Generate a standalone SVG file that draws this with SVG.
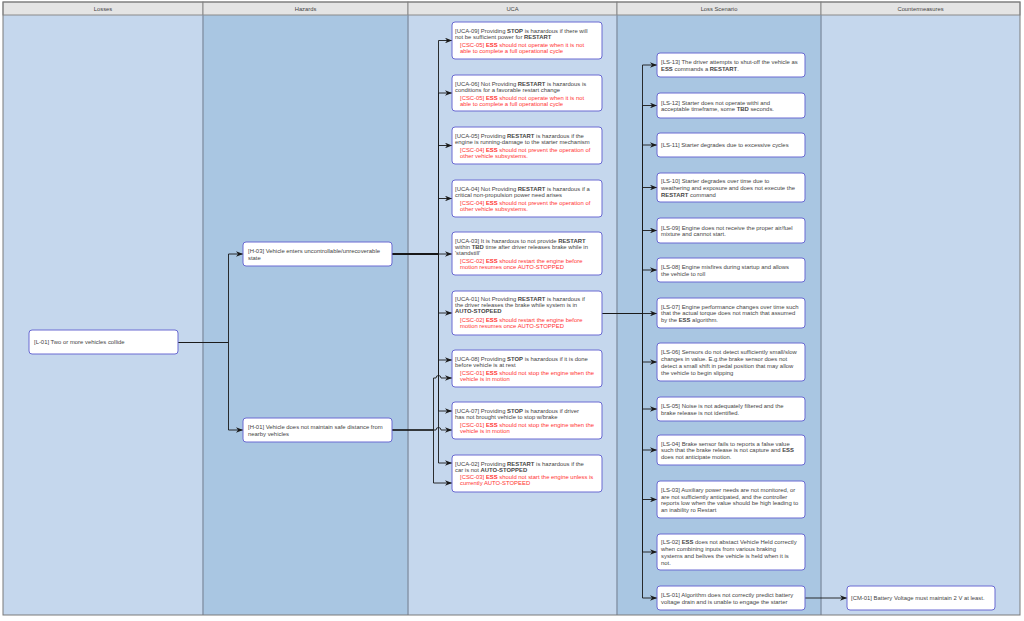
<svg xmlns="http://www.w3.org/2000/svg" width="1024" height="621" viewBox="0 0 1024 621">
<style>
.cl{fill:#c5d7ed}
.cd{fill:#a9c6e2}
.hdr{fill:#e4e4e4;stroke:#8a8a8a;stroke-width:1}
.sep{stroke:#8797ab;stroke-width:1.5;fill:none}
.ht{font-family:"Liberation Sans",Arial,sans-serif;font-size:5.8px;fill:#444;text-anchor:middle}
.node rect{fill:#fff;stroke:#6a6ad2;stroke-width:1}
.t{font-family:"Liberation Sans",Arial,sans-serif;font-size:5.9px;fill:#444}
.r{fill:#ff3333}
.b{font-weight:bold}
.e{fill:none;stroke:#1a1a1a;stroke-width:0.9}
</style>
<defs>
<marker id="ah" viewBox="0 0 10 8" refX="10" refY="4" markerWidth="7" markerHeight="5.6" markerUnits="userSpaceOnUse" orient="auto">
<path d="M0,0 L10,4 L0,8 L3,4 z" fill="#1a1a1a"/>
</marker>
</defs>
<rect x="0" y="0" width="1024" height="621" fill="#ffffff"/>
<g id="lanes">
<rect class="cl" x="3" y="15" width="200" height="600"/>
<rect class="cd" x="203" y="15" width="205" height="600"/>
<rect class="cl" x="408" y="15" width="209" height="600"/>
<rect class="cd" x="617" y="15" width="204" height="600"/>
<rect class="cl" x="821" y="15" width="199" height="600"/>
<rect class="hdr" x="3" y="2" width="200" height="13"/>
<rect class="hdr" x="203" y="2" width="205" height="13"/>
<rect class="hdr" x="408" y="2" width="209" height="13"/>
<rect class="hdr" x="617" y="2" width="204" height="13"/>
<rect class="hdr" x="821" y="2" width="199" height="13"/>
<path class="sep" d="M203,15 V615 M408,15 V615 M617,15 V615 M821,15 V615"/>
<rect x="3" y="2" width="1017" height="613" fill="none" stroke="#7a7a7a" stroke-width="1"/>
<text class="ht" x="103" y="10.5">Losses</text>
<text class="ht" x="305.5" y="10.5">Hazards</text>
<text class="ht" x="512.5" y="10.5">UCA</text>
<text class="ht" x="719" y="10.5">Loss Scenario</text>
<text class="ht" x="920.5" y="10.5">Countermeasures</text>
</g>
<g id="connectors">
<path class="e" marker-end="url(#ah)" d="M178,342.5 H228.5 V254 H243"/>
<path class="e" marker-end="url(#ah)" d="M178,342.5 H228.5 V430 H243"/>
<path class="e" marker-end="url(#ah)" d="M392,254 H438.5 V40.5 H452"/>
<path class="e" marker-end="url(#ah)" d="M392,254 H438.5 V93 H452"/>
<path class="e" marker-end="url(#ah)" d="M392,254 H438.5 V145.5 H452"/>
<path class="e" marker-end="url(#ah)" d="M392,254 H438.5 V198.5 H452"/>
<path class="e" marker-end="url(#ah)" d="M392,254 H452"/>
<path class="e" marker-end="url(#ah)" d="M392,254 H438.5 V313 H452"/>
<path class="e" marker-end="url(#ah)" d="M392,254 H438.5 V360 H452"/>
<path class="e" marker-end="url(#ah)" d="M392,254 H438.5 V411 H452"/>
<path class="e" marker-end="url(#ah)" d="M392,254 H438.5 V463 H452"/>
<path class="e" marker-end="url(#ah)" d="M392,430 H433.5 V378 H436 A2.5,2.5 0 0 1 441,378 H452"/>
<path class="e" marker-end="url(#ah)" d="M392,430 H436 A2.5,2.5 0 0 1 441,430 H452"/>
<path class="e" marker-end="url(#ah)" d="M392,430 H433.5 V483 H452"/>
<path class="e" marker-end="url(#ah)" d="M602,313.5 H642.5 V65 H657"/>
<path class="e" marker-end="url(#ah)" d="M602,313.5 H642.5 V105.5 H657"/>
<path class="e" marker-end="url(#ah)" d="M602,313.5 H642.5 V145 H657"/>
<path class="e" marker-end="url(#ah)" d="M602,313.5 H642.5 V187.5 H657"/>
<path class="e" marker-end="url(#ah)" d="M602,313.5 H642.5 V230.5 H657"/>
<path class="e" marker-end="url(#ah)" d="M602,313.5 H642.5 V270 H657"/>
<path class="e" marker-end="url(#ah)" d="M602,313.5 H657"/>
<path class="e" marker-end="url(#ah)" d="M602,313.5 H642.5 V362 H657"/>
<path class="e" marker-end="url(#ah)" d="M602,313.5 H642.5 V409 H657"/>
<path class="e" marker-end="url(#ah)" d="M602,313.5 H642.5 V450 H657"/>
<path class="e" marker-end="url(#ah)" d="M602,313.5 H642.5 V499.5 H657"/>
<path class="e" marker-end="url(#ah)" d="M602,313.5 H642.5 V552 H657"/>
<path class="e" marker-end="url(#ah)" d="M602,313.5 H642.5 V598 H657"/>
<path class="e" marker-end="url(#ah)" d="M805,598 H847"/>
</g>
<g id="l-01" class="node"><rect x="29" y="330" width="149" height="24" rx="3"/>
<text class="t" x="34" y="344.4">[L-01] Two or more vehicles collide</text></g>
<g id="h-03" class="node"><rect x="243" y="242" width="149" height="24" rx="3"/>
<text class="t"><tspan x="248" y="253">[H-03] Vehicle enters uncontrollable/unrecoverable</tspan><tspan x="248" y="259.8">state</tspan></text></g>
<g id="h-01" class="node"><rect x="243" y="418" width="149" height="24" rx="3"/>
<text class="t"><tspan x="248" y="429">[H-01] Vehicle does not maintain safe distance from</tspan><tspan x="248" y="435.8">nearby vehicles</tspan></text></g>
<g id="uca-09" class="node"><rect x="452" y="22" width="150" height="37" rx="3"/>
<text class="t"><tspan x="455" y="32.7">[UCA-09] Providing <tspan class="b">STOP</tspan> is hazardous if there will</tspan><tspan x="455" y="38.7">not be sufficient power for <tspan class="b">RESTART</tspan></tspan></text>
<text class="t r"><tspan x="460" y="46.7">[CSC-05] <tspan class="b">ESS</tspan> should not operate when it is not</tspan><tspan x="460" y="52.7">able to complete a full operational cycle</tspan></text></g>
<g id="uca-06" class="node"><rect x="452" y="75" width="150" height="36" rx="3"/>
<text class="t"><tspan x="455" y="85.5">[UCA-06] Not Providing <tspan class="b">RESTART</tspan> is hazardous is</tspan><tspan x="455" y="91.5">conditions for a favorable restart change</tspan></text>
<text class="t r"><tspan x="460" y="99.5">[CSC-05] <tspan class="b">ESS</tspan> should not operate when it is not</tspan><tspan x="460" y="105.5">able to complete a full operational cycle</tspan></text></g>
<g id="uca-05" class="node"><rect x="452" y="127" width="150" height="37" rx="3"/>
<text class="t"><tspan x="455" y="137.5">[UCA-05] Providing <tspan class="b">RESTART</tspan> is hazardous if the</tspan><tspan x="455" y="143.5">engine is running-damage to the starter mechanism</tspan></text>
<text class="t r"><tspan x="460" y="151.5">[CSC-04] <tspan class="b">ESS</tspan> should not prevent the operation of</tspan><tspan x="460" y="157.5">other vehicle subsystems.</tspan></text></g>
<g id="uca-04" class="node"><rect x="452" y="180" width="150" height="37" rx="3"/>
<text class="t"><tspan x="455" y="190.5">[UCA-04] Not Providing <tspan class="b">RESTART</tspan> is hazardous if a</tspan><tspan x="455" y="196.5">critical non-propulsion power need arises</tspan></text>
<text class="t r"><tspan x="460" y="204.5">[CSC-04] <tspan class="b">ESS</tspan> should not prevent the operation of</tspan><tspan x="460" y="210.5">other vehicle subsystems.</tspan></text></g>
<g id="uca-03" class="node"><rect x="452" y="232" width="150" height="43" rx="3"/>
<text class="t"><tspan x="455" y="242.5">[UCA-03] It is hazardous to not provide <tspan class="b">RESTART</tspan></tspan><tspan x="455" y="248.5">within <tspan class="b">TBD</tspan> time after driver releases brake while in</tspan><tspan x="455" y="254.5">'standstill'</tspan></text>
<text class="t r"><tspan x="460" y="263">[CSC-02] <tspan class="b">ESS</tspan> should restart the engine before</tspan><tspan x="460" y="269">motion resumes once AUTO-STOPPED</tspan></text></g>
<g id="uca-01" class="node"><rect x="452" y="291" width="150" height="44" rx="3"/>
<text class="t"><tspan x="455" y="301">[UCA-01] Not Providing <tspan class="b">RESTART</tspan> is hazardous if</tspan><tspan x="455" y="307.2">the driver releases the brake while system is in</tspan><tspan x="455" y="313.4" class="b">AUTO-STOPEED</tspan></text>
<text class="t r"><tspan x="460" y="321.7">[CSC-02] <tspan class="b">ESS</tspan> should restart the engine before</tspan><tspan x="460" y="327.9">motion resumes once AUTO-STOPPED</tspan></text></g>
<g id="uca-08" class="node"><rect x="452" y="350" width="150" height="37" rx="3"/>
<text class="t"><tspan x="455" y="360.8">[UCA-08] Providing <tspan class="b">STOP</tspan> is hazardous if it is done</tspan><tspan x="455" y="366.8">before vehicle is at rest</tspan></text>
<text class="t r"><tspan x="460" y="374.6">[CSC-01] <tspan class="b">ESS</tspan> should not stop the engine when the</tspan><tspan x="460" y="380.6">vehicle is in motion</tspan></text></g>
<g id="uca-07" class="node"><rect x="452" y="402" width="150" height="37" rx="3"/>
<text class="t"><tspan x="455" y="412.8">[UCA-07] Providing <tspan class="b">STOP</tspan> is hazardous if driver</tspan><tspan x="455" y="418.8">has not brought vehicle to stop w/brake</tspan></text>
<text class="t r"><tspan x="460" y="426.6">[CSC-01] <tspan class="b">ESS</tspan> should not stop the engine when the</tspan><tspan x="460" y="432.6">vehicle is in motion</tspan></text></g>
<g id="uca-02" class="node"><rect x="452" y="455" width="150" height="37" rx="3"/>
<text class="t"><tspan x="455" y="465.5">[UCA-02] Providing <tspan class="b">RESTART</tspan> is hazardous if the</tspan><tspan x="455" y="471.7">car is not <tspan class="b">AUTO-STOPPED</tspan></tspan></text>
<text class="t r"><tspan x="460" y="479">[CSC-03] <tspan class="b">ESS</tspan> should not start the engine unless is</tspan><tspan x="460" y="485.2">currently AUTO-STOPEED</tspan></text></g>
<g id="ls-13" class="node"><rect x="657" y="53" width="148" height="24" rx="3"/>
<text class="t"><tspan x="661" y="64">[LS-13] The driver attempts to shut-off the vehicle as</tspan><tspan x="661" y="70.8"><tspan class="b">ESS</tspan> commands a <tspan class="b">RESTART</tspan>.</tspan></text></g>
<g id="ls-12" class="node"><rect x="657" y="93" width="148" height="25" rx="3"/>
<text class="t"><tspan x="661" y="104.5">[LS-12] Starter does not operate withi and</tspan><tspan x="661" y="111.3">acceptable timeframe, some <tspan class="b">TBD</tspan> seconds.</tspan></text></g>
<g id="ls-11" class="node"><rect x="657" y="133" width="148" height="24" rx="3"/>
<text class="t" x="661" y="147.4">[LS-11] Starter degrades due to excessive cycles</text></g>
<g id="ls-10" class="node"><rect x="657" y="173" width="148" height="29" rx="3"/>
<text class="t"><tspan x="661" y="183.1">[LS-10] Starter degrades over time due to</tspan><tspan x="661" y="189.9">weathering and exposure and does not execute the</tspan><tspan x="661" y="196.7"><tspan class="b">RESTART</tspan> command</tspan></text></g>
<g id="ls-09" class="node"><rect x="657" y="218" width="148" height="25" rx="3"/>
<text class="t"><tspan x="661" y="229.5">[LS-09] Engine does not receive the proper air/fuel</tspan><tspan x="661" y="236.3">mixture and cannot start.</tspan></text></g>
<g id="ls-08" class="node"><rect x="657" y="258" width="148" height="24" rx="3"/>
<text class="t"><tspan x="661" y="269">[LS-08] Engine misfires during startup and allows</tspan><tspan x="661" y="275.8">the vehicle to roll</tspan></text></g>
<g id="ls-07" class="node"><rect x="657" y="298" width="148" height="30" rx="3"/>
<text class="t"><tspan x="661" y="308.6">[LS-07] Engine performance changes over time such</tspan><tspan x="661" y="315.4">that the actual torque does not match that assumed</tspan><tspan x="661" y="322.2">by the <tspan class="b">ESS</tspan> algorithm.</tspan></text></g>
<g id="ls-06" class="node"><rect x="657" y="343" width="148" height="38" rx="3"/>
<text class="t"><tspan x="661" y="354.2">[LS-06] Sensors do not detect sufficiently small/slow</tspan><tspan x="661" y="361">changes in value. E.g.the brake sensor does not</tspan><tspan x="661" y="367.8">detect a small shift in pedal position that may allow</tspan><tspan x="661" y="374.6">the vehicle to begin slipping</tspan></text></g>
<g id="ls-05" class="node"><rect x="657" y="397" width="148" height="24" rx="3"/>
<text class="t"><tspan x="661" y="408">[LS-05] Noise is not adequately filtered and the</tspan><tspan x="661" y="414.8">brake release is not identified.</tspan></text></g>
<g id="ls-04" class="node"><rect x="657" y="435" width="148" height="30" rx="3"/>
<text class="t"><tspan x="661" y="445.6">[LS-04] Brake sensor fails to reports a false value</tspan><tspan x="661" y="452.4">such that the brake release is not capture and <tspan class="b">ESS</tspan></tspan><tspan x="661" y="459.2">does not anticipate motion.</tspan></text></g>
<g id="ls-03" class="node"><rect x="657" y="481" width="148" height="37" rx="3"/>
<text class="t"><tspan x="661" y="491.7">[LS-03] Auxiliary power needs are not monitored, or</tspan><tspan x="661" y="498.5">are not sufficiently anticipated, and the controller</tspan><tspan x="661" y="505.3">reports low when the value should be high leading to</tspan><tspan x="661" y="512.1">an inability ro Restart</tspan></text></g>
<g id="ls-02" class="node"><rect x="657" y="534" width="148" height="36" rx="3"/>
<text class="t"><tspan x="661" y="544.2">[LS-02] <tspan class="b">ESS</tspan> does not abstact Vehicle Held correctly</tspan><tspan x="661" y="551">when combining inputs from various braking</tspan><tspan x="661" y="557.8">systems and belives the vehicle is held  when it is</tspan><tspan x="661" y="564.6">not.</tspan></text></g>
<g id="ls-01" class="node"><rect x="657" y="586" width="148" height="24" rx="3"/>
<text class="t"><tspan x="661" y="597">[LS-01] Algorithm does not correctly predict battery</tspan><tspan x="661" y="603.8">voltage drain and is unable to engage the starter</tspan></text></g>
<g id="cm-01" class="node"><rect x="847" y="586" width="148" height="24" rx="3"/>
<text class="t" x="851" y="600.4">[CM-01] Battery Voltage must maintain 2 V at least.</text></g>
</svg>
